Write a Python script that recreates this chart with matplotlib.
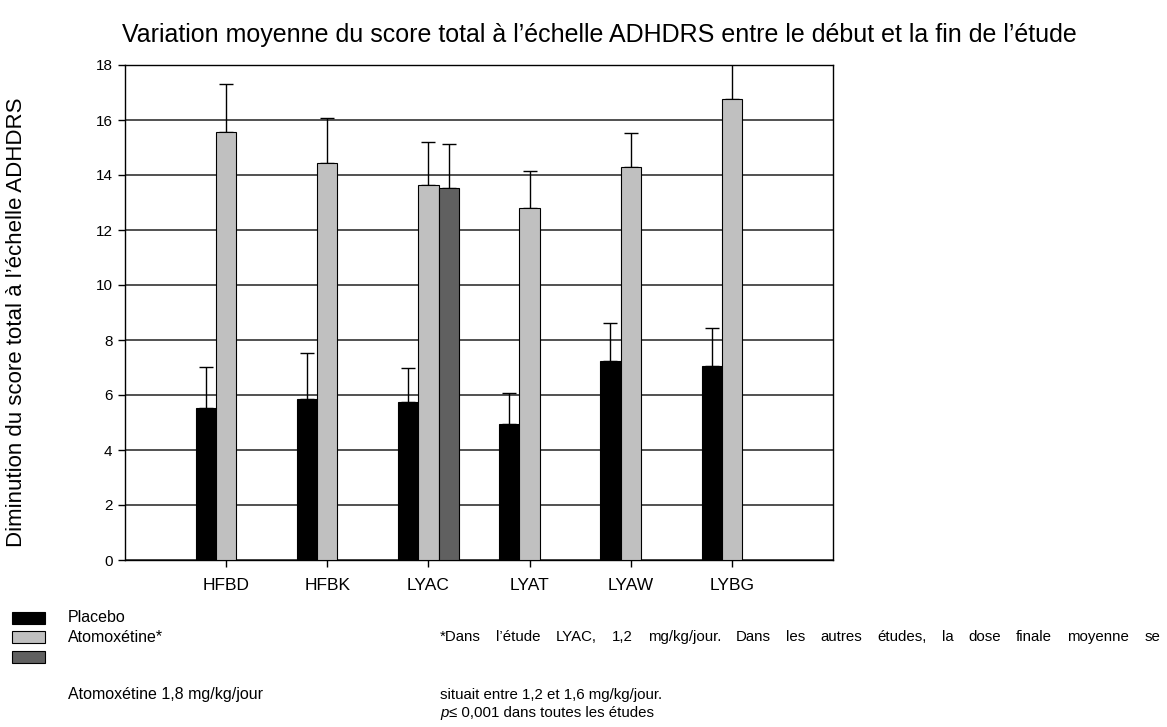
import matplotlib
matplotlib.use('Agg')
import matplotlib.pyplot as plt
from matplotlib.patches import Rectangle
import numpy as np

plt.rcParams['font.family'] = ['Liberation Sans', 'DejaVu Sans']

studies = ['HFBD', 'HFBK', 'LYAC', 'LYAT', 'LYAW', 'LYBG']
placebo = [5.53, 5.87, 5.75, 4.96, 7.25, 7.04]
placebo_err = [1.50, 1.66, 1.22, 1.12, 1.36, 1.40]
atomox = [15.58, 14.44, 13.65, 12.79, 14.30, 16.77]
atomox_err = [1.72, 1.65, 1.54, 1.35, 1.23, 1.80]
high_dose_study = ['LYAC']
high_dose = [13.52]
high_dose_err = [1.61]

yticks = list(range(0, 19, 2))
title = "Variation moyenne du score total à l\u2019échelle ADHDRS entre le début et la fin de l\u2019étude"
ylabel = "Diminution du score total à l\u2019échelle ADHDRS"
legend_labels = ['Placebo', 'Atomoxétine*', '']
footnote = ["*Dans l\u2019étude LYAC, 1,2 mg/kg/jour. Dans les autres études, la dose finale moyenne se",
            "situait entre 1,2 et 1,6 mg/kg/jour."]

W, H = 1167, 727
fig = plt.figure(figsize=(W / 100, H / 100), dpi=100)
ax = fig.add_axes([125 / W, 1 - 560 / H, (833 - 125) / W, (560 - 65) / H])

x = np.arange(1, len(studies) + 1)
bw = 0.2
err_kw = dict(ecolor='black', elinewidth=1.0, capsize=4.7, capthick=1.0)

ax.bar(x - bw, placebo, bw, color='black', edgecolor='black', linewidth=0.8, zorder=3)
ax.errorbar(x - bw, placebo, yerr=[np.zeros(len(x)), placebo_err], fmt='none', zorder=2, **err_kw)
ax.bar(x, atomox, bw, color='#c0c0c0', edgecolor='black', linewidth=0.8, zorder=3)
ax.errorbar(x, atomox, yerr=[np.zeros(len(x)), atomox_err], fmt='none', zorder=2, **err_kw)

hx = np.array([studies.index(s) + 1 for s in high_dose_study]) + bw
ax.bar(hx, high_dose, bw, color='#606060', edgecolor='black', linewidth=0.8, zorder=3)
ax.errorbar(hx, high_dose, yerr=[np.zeros(len(hx)), high_dose_err], fmt='none', zorder=2, **err_kw)

ax.set_xlim(0, 7)
ax.set_ylim(0, 18)
ax.set_yticks(yticks)
ax.set_xticks(x)
ax.set_xticklabels(studies, fontsize=12.5)
ax.tick_params(axis='y', labelsize=11, length=5, width=1, direction='out', pad=4)
ax.tick_params(axis='x', length=5, width=1, direction='out', pad=8)
ax.yaxis.grid(True, color='#222222', linewidth=1.1, zorder=0)
ax.set_axisbelow(True)
for sp in ax.spines.values():
    sp.set_linewidth(1.0)
    sp.set_color('black')

fig.text(1077 / W, 1 - 35 / H, title, fontsize=18, ha='right', va='center')
fig.text(17 / W, 1 - 322 / H, ylabel, fontsize=16, rotation=90, ha='center', va='center')

# legend drawn by hand, as in the original layout
colors = ['black', '#c0c0c0', '#606060']
rows = [618, 637, 657]
for c, lab, yy in zip(colors, legend_labels, rows):
    fig.add_artist(Rectangle((12 / W, 1 - (yy + 6) / H), 33 / W, 12 / H,
                             transform=fig.transFigure, facecolor=c, edgecolor='black', linewidth=0.8))
    if lab:
        fig.text(68 / W, 1 - yy / H, lab, fontsize=11.5, ha='left', va='center')
fig.text(68 / W, 1 - 695 / H, 'Atomoxétine 1,8 mg/kg/jour', fontsize=11.5, ha='left', va='center')

# first footnote line is justified between x=440 and x=1160 px
fs_note = 10.8
renderer = fig.canvas.get_renderer()
words = footnote[0].split(' ')
arts = [fig.text(0, 0, w, fontsize=fs_note, ha='left', va='center') for w in words]
widths = [a.get_window_extent(renderer).width for a in arts]
gap = (1160 - 440 - sum(widths)) / (len(words) - 1)
xpos = 440
for a, wd in zip(arts, widths):
    a.set_position((xpos / W, 1 - 637 / H))
    xpos += wd + gap

fig.text(440 / W, 1 - 695 / H, footnote[1], fontsize=fs_note, ha='left', va='center')
fig.text(440 / W, 1 - 713 / H, 'p', fontsize=fs_note, style='italic', ha='left', va='center')
fig.text(449 / W, 1 - 713 / H, '\u2264 0,001 dans toutes les études', fontsize=fs_note, ha='left', va='center')

fig.savefig('out.png', dpi=100)
